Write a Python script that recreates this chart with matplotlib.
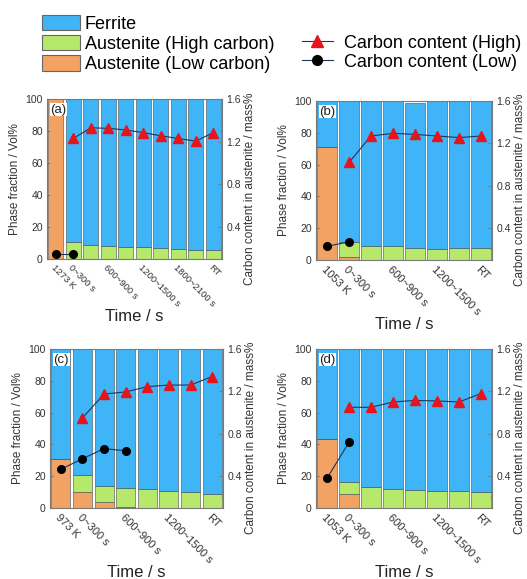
import numpy as np
import matplotlib
matplotlib.use("Agg")
import matplotlib.pyplot as plt
from matplotlib.patches import Patch
from matplotlib.lines import Line2D
from matplotlib.ticker import MultipleLocator

plt.rcParams['font.family'] = ['Liberation Sans', 'DejaVu Sans']

nan = np.nan

# (a) 1273 K
labels_a = ['1273 K', '0~300 s', '', '600~900 s', '', '1200~1500 s', '', '1800~2100 s', '', 'RT']
low_a = [100, 0, 0, 0, 0, 0, 0, 0, 0, 0]
high_a = [0, 10.5, 8.5, 8, 7.5, 7.5, 7, 6, 5.5, 5.5]
total_a = [100] * 10
c_high_a = [nan, 1.23, 1.33, 1.325, 1.31, 1.285, 1.255, 1.23, 1.205, 1.285]
c_low_a = [0.15, 0.15, nan, nan, nan, nan, nan, nan, nan, nan]

# (b) 1053 K
labels_b = ['1053 K', '0~300 s', '', '600~900 s', '', '1200~1500 s', '', 'RT']
low_b = [71, 2, 0, 0, 0, 0, 0, 0]
high_b = [0, 9.5, 8.5, 8.5, 7.5, 7, 7.5, 7.5]
total_b = [100, 100, 100, 100, 98.5, 100, 100, 100]
c_high_b = [nan, 1.02, 1.27, 1.295, 1.285, 1.27, 1.255, 1.27]
c_low_b = [0.23, 0.27, nan, nan, nan, nan, nan, nan]

# (c) 973 K
labels_c = ['973 K', '0~300 s', '', '600~900 s', '', '1200~1500 s', '', 'RT']
low_c = [31, 10, 3.5, 0.5, 0, 0, 0, 0]
high_c = [0, 11, 10.5, 12, 12, 10.5, 10, 8.5]
total_c = [100] * 8
c_high_c = [nan, 0.95, 1.175, 1.195, 1.245, 1.26, 1.26, 1.34]
c_low_c = [0.465, 0.565, 0.66, 0.64, nan, nan, nan, nan]

# (d) 1053 K
labels_d = ['1053 K', '0~300 s', '', '600~900 s', '', '1200~1500 s', '', 'RT']
low_d = [43.5, 9, 0, 0, 0, 0, 0, 0]
high_d = [0, 7.5, 13, 12, 11.5, 11, 10.5, 10]
total_d = [100] * 8
c_high_d = [nan, 1.05, 1.05, 1.10, 1.115, 1.11, 1.10, 1.18]
c_low_d = [0.38, 0.72, nan, nan, nan, nan, nan, nan]

c_ferrite = '#3fb4f6'
c_highc = '#b6e86c'
c_lowc = '#f2a262'
c_line = '#22345a'
grey = '#7a7a7a'

W, H = 527, 579
fig = plt.figure(figsize=(W / 100, H / 100), dpi=100)


def box(left, top, right, bottom):
    return [left / W, 1 - bottom / H, (right - left) / W, (bottom - top) / H]


def panel(rect, tag, labels, low, high, total, ch, cl, xfs):
    ax = fig.add_axes(rect)
    x = np.arange(len(labels))
    low = np.array(low, float)
    high = np.array(high, float)
    fer = np.array(total, float) - low - high
    kw = dict(width=0.88, edgecolor='#4a4a4a', linewidth=0.4)
    ax.bar(x, low, color=c_lowc, **kw)
    ax.bar(x, high, bottom=low, color=c_highc, **kw)
    ax.bar(x, fer, bottom=low + high, color=c_ferrite, **kw)
    ax.set_xlim(-0.5, len(labels) - 0.5)
    ax.set_ylim(0, 100)
    ax.set_yticks(range(0, 101, 20))
    ax.set_xticks(x)
    ax.set_xticklabels(labels, rotation=-45, ha='left', va='top',
                       rotation_mode='anchor', fontsize=xfs, color='#333333')
    ax.tick_params(axis='x', length=0, pad=3)
    ax.tick_params(axis='y', direction='in', length=2, labelsize=7.5,
                   labelcolor='#333333', color=grey, pad=3)
    ax.set_ylabel('Phase fraction / Vol%', fontsize=8.5, color='#333333', labelpad=3)
    ax.set_xlabel('Time / s', fontsize=12, color='#222222', labelpad=0)
    for s in ax.spines.values():
        s.set_color(grey)
        s.set_linewidth(0.8)
    ax.text(0.02, 0.97, tag, transform=ax.transAxes, fontsize=9.5, va='top',
            ha='left', color='#222222',
            bbox=dict(facecolor='white', edgecolor='none', pad=0.5))

    ax2 = ax.twinx()
    ax2.plot(x, ch, '-', color=c_line, lw=0.8, marker='^', ms=6.5,
             mfc='#e8141c', mec='#e8141c')
    ax2.plot(x, cl, '-', color=c_line, lw=0.8, marker='o', ms=5.5,
             mfc='black', mec='black')
    ax2.set_ylim(0.1, 1.6)
    ax2.set_yticks([0.4, 0.8, 1.2, 1.6])
    ax2.yaxis.set_minor_locator(MultipleLocator(0.1))
    ax2.tick_params(axis='y', which='both', direction='in', labelsize=7.5,
                    labelcolor='#333333', color=grey, pad=3)
    ax2.tick_params(axis='y', which='major', length=3)
    ax2.tick_params(axis='y', which='minor', length=1.5)
    ax2.set_ylabel('Carbon content in austenite / mass%', fontsize=8.5,
                   color='#333333')
    ax2.yaxis.set_label_coords(1.125, 0.44)
    for s in ax2.spines.values():
        s.set_visible(False)
    return ax


panel(box(47, 99, 222, 259), '(a)', labels_a, low_a, high_a, total_a, c_high_a, c_low_a, 6.8)
panel(box(316, 101, 492, 260), '(b)', labels_b, low_b, high_b, total_b, c_high_b, c_low_b, 8)
panel(box(50, 349, 223, 508), '(c)', labels_c, low_c, high_c, total_c, c_high_c, c_low_c, 8)
panel(box(316, 349, 492, 508), '(d)', labels_d, low_d, high_d, total_d, c_high_d, c_low_d, 8)

patch_kw = dict(edgecolor='#666666', linewidth=0.8)
h1 = [Patch(facecolor=c_ferrite, **patch_kw),
      Patch(facecolor=c_highc, **patch_kw),
      Patch(facecolor=c_lowc, **patch_kw)]
fig.legend(h1, ['Ferrite', 'Austenite (High carbon)', 'Austenite (Low carbon)'],
           loc='upper left', bbox_to_anchor=(29 / W, 1 - 2 / H), frameon=False,
           fontsize=13, handlelength=2.1, handleheight=0.95, labelspacing=0.12,
           handletextpad=0.3, borderpad=0.2)

h2 = [Line2D([], [], color=c_line, lw=0.8, marker='^', ms=8, mfc='#e8141c', mec='#e8141c'),
      Line2D([], [], color=c_line, lw=0.8, marker='o', ms=7, mfc='black', mec='black')]
fig.legend(h2, ['Carbon content (High)', 'Carbon content (Low)'],
           loc='upper left', bbox_to_anchor=(289 / W, 1 - 22 / H), frameon=False,
           fontsize=13, handlelength=1.75, labelspacing=0.12, handletextpad=0.6,
           borderpad=0.2)

fig.savefig('out.png', dpi=100)
